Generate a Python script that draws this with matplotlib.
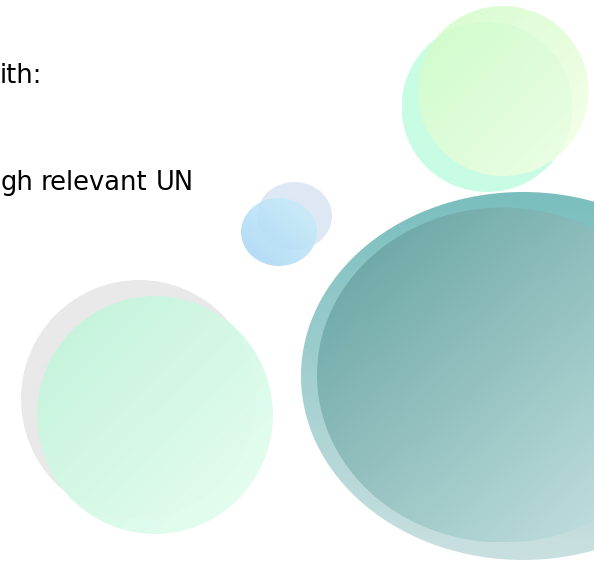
import numpy as np
import matplotlib
matplotlib.use("Agg")
import matplotlib.pyplot as plt
from matplotlib.patches import Ellipse

# Shapes: name, center x, center y, width, height (pixel space)
shape_names = ["gray_back", "mint_front", "blue_back", "blue_front",
               "mint_top_back", "lime_top_front", "teal_back", "teal_front"]
centers_x = [139, 155, 294.5, 279, 487, 503, 523, 503]
centers_y = [399, 415, 216, 232, 107, 91, 376, 375]
widths = [236, 236, 75, 76, 171, 171, 444, 372]
heights = [238, 238, 68, 68, 170, 170, 368, 335]
# gradient start / end colours (RGB 0-255) and gradient direction (dx, dy weights)
start_colors = [(233, 233, 233), (192, 243, 218), (222, 232, 244), (168, 214, 246),
                (200, 252, 228), (206, 252, 198), (122, 190, 190), (96, 160, 158)]
end_colors = [(233, 233, 233), (232, 255, 242), (222, 232, 244), (205, 238, 249),
              (200, 252, 228), (246, 255, 232), (202, 224, 224), (206, 231, 231)]
grad_dir = [(0.5, 0.5), (0.5, 0.5), (0.5, 0.5), (0.5, -0.5),
            (0.5, 0.5), (0.5, 0.5), (0.0, 1.0), (0.5, 0.5)]
alphas = [1.0, 0.95, 1.0, 0.9, 1.0, 0.85, 1.0, 0.97]

# Text fragments (word by word)
text_words = ["ith:", "gh", "relevant", "UN"]
text_x = [0, 1, 41, 156]
text_y = [83, 190, 190, 190]

W, H = 594, 561
fig = plt.figure(figsize=(W / 100, H / 100), dpi=100)
ax = fig.add_axes([0, 0, 1, 1])
ax.set_xlim(0, W)
ax.set_ylim(H, 0)
ax.axis("off")

for i in range(len(shape_names)):
    cx, cy, w, h = centers_x[i], centers_y[i], widths[i], heights[i]
    x0, x1 = cx - w / 2, cx + w / 2
    y0, y1 = cy - h / 2, cy + h / 2
    n = 200
    u = np.linspace(0, 1, n)[None, :]
    v = np.linspace(0, 1, n)[:, None]
    dx, dy = grad_dir[i]
    if dy < 0:
        t = dx * u + (-dy) * (1 - v)
    else:
        t = dx * u + dy * v
    t = np.clip(t / (abs(dx) + abs(dy)), 0, 1)
    c1 = np.array(start_colors[i]) / 255.0
    c2 = np.array(end_colors[i]) / 255.0
    img = np.zeros((n, n, 4))
    for k in range(3):
        img[..., k] = c1[k] * (1 - t) + c2[k] * t
    img[..., 3] = alphas[i]
    ell = Ellipse((cx, cy), w, h, facecolor="none", edgecolor="none")
    ax.add_patch(ell)
    im = ax.imshow(img, extent=[x0, x1, y1, y0], origin="upper",
                   interpolation="bilinear", zorder=i + 1)
    im.set_clip_path(ell)

for s, x, y in zip(text_words, text_x, text_y):
    ax.text(x, y, s, fontsize=18.5, family="DejaVu Sans", color="black",
            ha="left", va="baseline", zorder=20)

ax.set_xlim(0, W)
ax.set_ylim(H, 0)
fig.savefig("out.png", dpi=100)
